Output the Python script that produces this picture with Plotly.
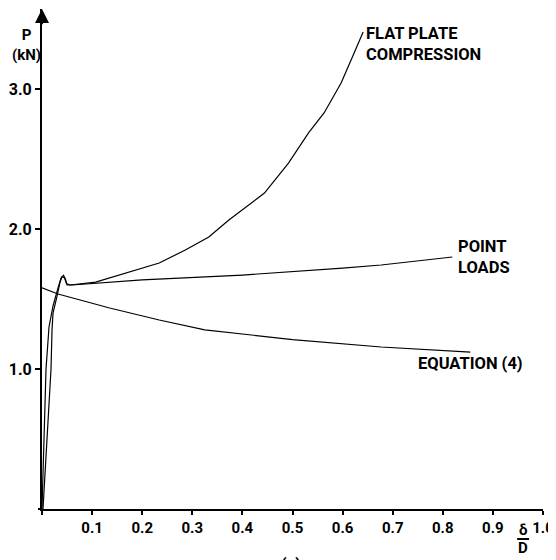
import plotly.graph_objects as go

# ---- data ----
fpc_x = [0.000, 0.004, 0.008, 0.014, 0.022, 0.032, 0.038, 0.043, 0.047, 0.049, 0.056,
         0.107, 0.167, 0.234, 0.286, 0.333, 0.373, 0.444, 0.492, 0.532, 0.563, 0.597, 0.623, 0.641]
fpc_y = [0.00, 0.50, 1.00, 1.30, 1.45, 1.58, 1.65, 1.67, 1.64, 1.61, 1.60,
         1.621, 1.686, 1.757, 1.850, 1.943, 2.064, 2.257, 2.471, 2.686, 2.829, 3.043, 3.257, 3.407]

pl_x = [0.002, 0.010, 0.018, 0.020, 0.022, 0.030, 0.036, 0.040, 0.045, 0.050, 0.060,
        0.200, 0.400, 0.600, 0.677, 0.819]
pl_y = [0.00, 0.50, 1.00, 1.28, 1.40, 1.52, 1.62, 1.66, 1.65, 1.60, 1.60,
        1.636, 1.671, 1.720, 1.743, 1.800]

eq_x = [0.000, 0.032, 0.135, 0.234, 0.325, 0.500, 0.677, 0.855]
eq_y = [1.580, 1.536, 1.436, 1.350, 1.280, 1.210, 1.157, 1.121]

x_ticks = [0.1, 0.2, 0.3, 0.4, 0.5, 0.6, 0.7, 0.8, 0.9, 1.0]
x_tick_labels = ["0.1", "0.2", "0.3", "0.4", "0.5", "0.6", "0.7", "0.8", "0.9", "1.0"]
y_ticks = [1.0, 2.0, 3.0]
y_tick_labels = ["1.0", "2.0", "3.0"]

FONT = "Roboto"
line_style = dict(color="black", width=1.2)

fig = go.Figure()
fig.add_trace(go.Scatter(x=fpc_x, y=fpc_y, mode="lines", line=line_style, showlegend=False))
fig.add_trace(go.Scatter(x=pl_x, y=pl_y, mode="lines", line=line_style, showlegend=False))
fig.add_trace(go.Scatter(x=eq_x, y=eq_y, mode="lines", line=line_style, showlegend=False))

W_PLOT, H_PLOT = 504, 500
L, B = 39, 509  # page-pixel position of origin
YMAX = H_PLOT / 140
OFF = 8  # the page body adds an 8px margin

fig.update_layout(
    width=556 - OFF, height=560 - OFF,
    margin=dict(l=39 - OFF, r=13, t=9 - OFF, b=51),
    plot_bgcolor="white", paper_bgcolor="white",
    font=dict(family=FONT, color="black", size=15),
    xaxis=dict(range=[0, 1.0], tickvals=x_ticks, ticktext=x_tick_labels,
               showgrid=False, zeroline=False, showline=True, linecolor="black",
               linewidth=2, ticks="outside", ticklen=4, tickwidth=1.5, tickcolor="black",
               ticklabeloverflow="allow",
               tickfont=dict(family=FONT, size=15, weight="bold")),
    yaxis=dict(range=[0, YMAX], tickvals=y_ticks, ticktext=y_tick_labels,
               showgrid=False, zeroline=False, showline=True, linecolor="black",
               linewidth=2, ticks="outside", ticklen=5, tickwidth=1.5, tickcolor="black",
               ticklabeloverflow="allow",
               tickfont=dict(family=FONT, size=16, weight="bold")),
)

def px_x(px):
    return (px - L) / W_PLOT

def px_y(py):
    return (B - py) / H_PLOT

# axis extensions beyond origin
fig.add_shape(type="line", xref="paper", yref="paper", x0=px_x(35), x1=0, y0=0, y1=0,
              line=dict(color="black", width=2))
fig.add_shape(type="line", xref="paper", yref="paper", x0=0, x1=0, y0=px_y(515), y1=0,
              line=dict(color="black", width=2))

# arrow on the y axis
fig.add_annotation(x=0, y=YMAX, ax=0, ay=YMAX - 0.12, xref="x", yref="y", axref="x", ayref="y",
                   text="", showarrow=True, arrowhead=2, arrowsize=1.4, arrowwidth=2,
                   arrowcolor="black")

def label(txt, px, py, size=16.5, xanchor="left", yanchor="middle", align="left"):
    fig.add_annotation(x=px_x(px), y=px_y(py), xref="paper", yref="paper", text=txt,
                       showarrow=False, xanchor=xanchor, yanchor=yanchor, align=align,
                       font=dict(family=FONT, size=size, color="black", weight="bold"))

label("FLAT PLATE<br>COMPRESSION", 363, 44)
label("POINT<br>LOADS", 455, 257)
label("EQUATION (4)", 415, 363)
label("P<br>(kN)", 23, 45, size=15, xanchor="center", align="center")

# delta / D axis label
label("δ", 523, 530, size=15, xanchor="center")
label("D", 523, 548, size=15, xanchor="center")
fig.add_shape(type="line", xref="paper", yref="paper", x0=px_x(517), x1=px_x(529),
              y0=px_y(539), y1=px_y(539), line=dict(color="black", width=2))

# caption (cropped at bottom)
label("(a)", 289, 553, size=16, xanchor="center", yanchor="top")

fig.write_html("out.html")
